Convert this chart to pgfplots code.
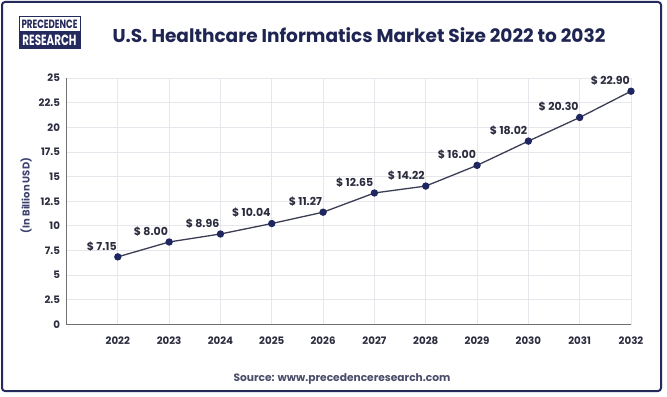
\documentclass[border=0pt]{standalone}
\usepackage{pgfplots}
\pgfplotsset{compat=1.18}
\usepackage{pgfplotstable}
\usepackage{graphicx}
\usepackage{fontspec}
\setmainfont{Poppins}
\definecolor{navy}{HTML}{252A5C}
\definecolor{titlecol}{HTML}{1F2552}
\definecolor{labcol}{HTML}{2B2C3E}
\definecolor{ylabcol}{HTML}{3C4170}
\definecolor{srccol}{HTML}{4A4E6A}
\definecolor{gridcol}{HTML}{E6E6EC}
\definecolor{axiscol}{HTML}{707070}
\definecolor{linecol}{HTML}{3B3D55}
\definecolor{markcol}{HTML}{1F2660}

\pgfplotstableread{
year val lab
2022 6.86 7.15
2023 8.37 8.00
2024 9.18 8.96
2025 10.24 10.04
2026 11.39 11.27
2027 13.34 12.65
2028 14.04 14.22
2029 16.14 16.00
2030 18.60 18.02
2031 21.00 20.30
2032 23.66 22.90
}\datatable

\begin{document}
\begin{tikzpicture}
\begin{scope}[x=1bp,y=1bp]
\useasboundingbox (0,0) rectangle (667,396);
\fill[white] (0,0) rectangle (667,396);
\draw[navy, line width=2bp, rounded corners=3bp] (2,5) rectangle (661,394);
% logo
\draw[navy, line width=1bp, fill=white] (19.5,364.5) rectangle (80,379);
\fill[navy] (19,347) rectangle (80.5,364.5);
\node[navy, inner sep=0] at (49.5,371.8) {\resizebox{56bp}{8.5bp}{\bfseries PRECEDENCE}};
\node[white, inner sep=0] at (49.5,355.5) {\resizebox{54bp}{10.5bp}{\bfseries RESEARCH}};
% title
\node[anchor=base, titlecol, inner sep=0] at (359,354) {\fontsize{18.6}{22}\selectfont\bfseries U.S. Healthcare Informatics Market Size 2022 to 2032};
% y label
\node[rotate=90, ylabcol, inner sep=0] at (26,200.5) {\fontsize{10}{11}\selectfont\bfseries (In Billion USD)};
% source
\node[anchor=base, srccol, inner sep=0] at (342,15) {\fontsize{10.7}{12}\selectfont\bfseries Source: www.precedenceresearch.com};
\end{scope}

\begin{axis}[
  at={(66.5bp,71.5bp)}, anchor=south west,
  scale only axis, width=564.5bp, height=246.5bp,
  xmin=2021, xmax=2032, ymin=0, ymax=25,
  xtick={2022,2023,2024,2025,2026,2027,2028,2029,2030,2031,2032},
  ytick={0,2.5,5,7.5,10,12.5,15,17.5,20,22.5,25},
  /pgf/number format/1000 sep={},
  /pgf/number format/assume math mode=true,
  axis x line*=bottom, axis y line*=left,
  axis line style={axiscol, line width=1.5bp, -},
  major tick length=0pt,
  grid=major,
  major grid style={gridcol, line width=0.9bp},
  ticklabel style={labcol, font=\fontsize{10.3}{12}\selectfont\bfseries},
  xticklabel style={yshift=-8.5bp},
  yticklabel style={xshift=-3bp},
  clip=false,
]
\addplot[linecol, line width=1.3bp, mark=*, mark size=3bp,
  mark options={fill=markcol, draw=markcol},
  nodes near coords={\$ \pgfplotspointmeta},
  point meta=explicit symbolic,
  every node near coord/.append style={anchor=base east, xshift=-0.5bp, yshift=6.8bp, inner sep=0pt, labcol, font=\fontsize{11}{12}\selectfont\bfseries},
] table[x=year, y=val, meta=lab] {\datatable};
\end{axis}
\end{tikzpicture}
\end{document}
